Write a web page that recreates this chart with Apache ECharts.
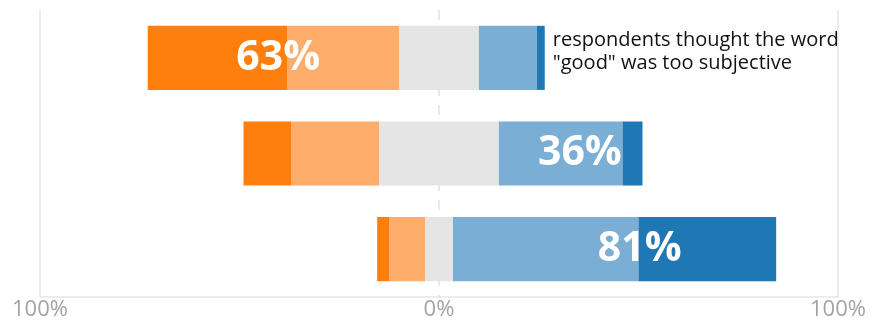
<!DOCTYPE html>
<html>
<head>
<meta charset="utf-8">
<script src="https://cdn.jsdelivr.net/npm/echarts@6/dist/echarts.min.js"></script>
<style>
html,body{margin:0;padding:0;background:#fff;}
#c{width:884px;height:321px;}
</style>
</head>
<body>
<div id="c"></div>
<script>
var categories = ['Question 1', 'Question 2', 'Question 3'];
var stronglyDisagree = [35, 12, 3];
var disagree = [28, 22, 9];
var neutral = [20, 30, 7];
var agree = [14.5, 31, 46.5];
var stronglyAgree = [2, 5, 34.5];
var summaryText = ['63%', '36%', '81%'];
var summaryX = [-40.3, 35.3, 50.3];
var annotation = 'respondents thought the word\n"good" was too subjective';
var xTicks = [-100, 0, 100];

var FONT = '"Open Sans", "Noto Sans", sans-serif';
var chart = echarts.init(document.getElementById('c'), null, {renderer: 'canvas'});

function neg(arr) { return arr.map(function (v) { return -v; }); }

var barBase = {type: 'bar', stack: 'total', barCategoryGap: '33%', z: 2};

var option = {
  animation: false,
  grid: {left: 40, right: 46, top: 10, bottom: 24, containLabel: false},
  xAxis: {
    type: 'value', min: xTicks[0], max: xTicks[2], interval: 100,
    splitLine: {show: false},
    axisTick: {show: false},
    axisLine: {show: true, lineStyle: {color: '#e6e6e6', width: 1.5}},
    axisLabel: {
      margin: 2, color: '#a3a3a3', fontSize: 22, fontFamily: FONT,
      formatter: function (v) { return Math.abs(v) + '%'; }
    }
  },
  yAxis: {
    type: 'category', data: categories, inverse: true,
    axisLine: {show: false}, axisTick: {show: false}, axisLabel: {show: false},
    splitLine: {show: false}
  },
  series: [
    Object.assign({}, barBase, {
      name: 'neutral-left', data: neutral.map(function (v) { return -v / 2; }),
      itemStyle: {color: '#e5e5e5'},
      markLine: {
        silent: true, symbol: 'none', z: 1, label: {show: false},
        lineStyle: {color: '#e6e6e6', width: 1.5, type: 'solid'},
        data: [
          {xAxis: xTicks[0]},
          {xAxis: xTicks[1], lineStyle: {type: [10, 9], color: '#e2e2e2', width: 1.5}},
          {xAxis: xTicks[2]}
        ]
      }
    }),
    Object.assign({}, barBase, {name: 'disagree', data: neg(disagree), itemStyle: {color: '#ffad6b'}}),
    Object.assign({}, barBase, {name: 'strongly disagree', data: neg(stronglyDisagree), itemStyle: {color: '#ff7f0e'}}),
    Object.assign({}, barBase, {name: 'neutral-right', data: neutral.map(function (v) { return v / 2; }), itemStyle: {color: '#e5e5e5'}}),
    Object.assign({}, barBase, {name: 'agree', data: agree, itemStyle: {color: '#7aaed4'}}),
    Object.assign({}, barBase, {
      name: 'strongly agree',
      data: stronglyAgree.map(function (v, i) {
        if (i === 0) {
          return {
            value: v,
            label: {
              show: true, position: 'right', distance: 8, offset: [0, -6],
              formatter: annotation, color: '#111', fontSize: 20, lineHeight: 23,
              fontFamily: FONT, align: 'left'
            }
          };
        }
        return v;
      }),
      itemStyle: {color: '#1f77b4'}
    }),
    {
      type: 'scatter', name: 'summary', z: 10, symbolSize: 1,
      itemStyle: {color: 'rgba(0,0,0,0)'},
      data: summaryX.map(function (x, i) { return [x, categories[i]]; }),
      label: {
        show: true, position: 'inside', opacity: 1,
        textBorderWidth: 0, textBorderColor: 'transparent',
        formatter: function (p) { return summaryText[p.dataIndex]; },
        color: '#ffffff', fontSize: 41, fontWeight: 'bold', fontFamily: FONT
      }
    }
  ]
};
chart.setOption(option);
</script>
</body>
</html>
